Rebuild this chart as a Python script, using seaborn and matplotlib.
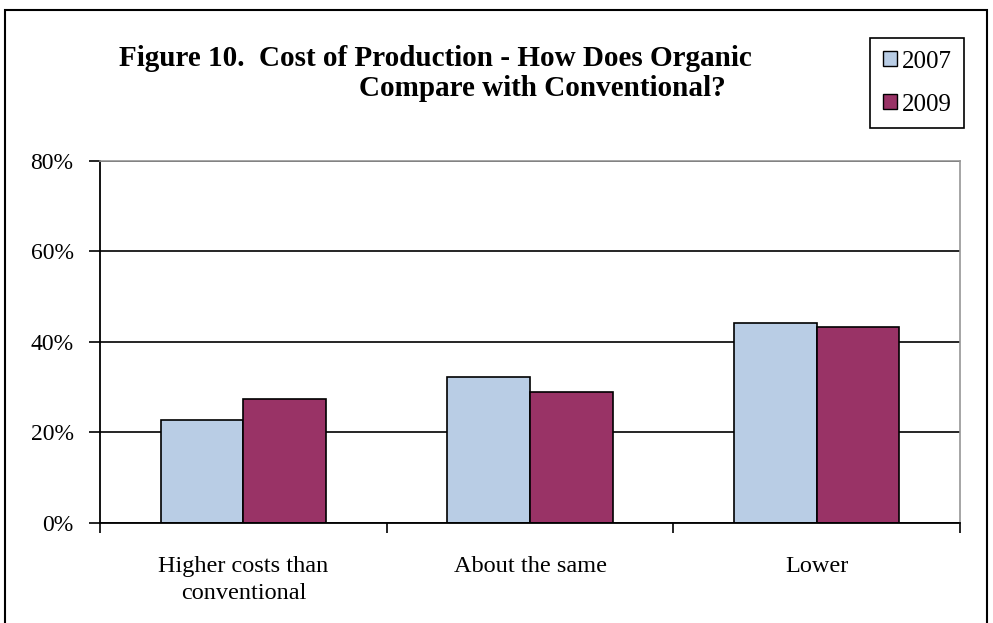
import matplotlib.pyplot as plt
import matplotlib.patches as mpatches
import pandas as pd
import seaborn as sns

categories = ["Higher costs than\nconventional", "About the same", "Lower"]
years = ["2007", "2009"]
values_2007 = [22.7, 32.3, 44.2]
values_2009 = [27.3, 28.9, 43.3]
y_ticks = [0, 20, 40, 60, 80]
colors = {"2007": "#B9CDE5", "2009": "#993366"}

df = pd.DataFrame({
    "category": categories * 2,
    "year": ["2007"] * 3 + ["2009"] * 3,
    "value": values_2007 + values_2009,
})

sns.set_style("white")
plt.rcParams["font.family"] = ["Liberation Serif", "DejaVu Serif"]
plt.rcParams["text.color"] = "black"
plt.rcParams["xtick.color"] = "black"
plt.rcParams["ytick.color"] = "black"

fig = plt.figure(figsize=(9.93, 6.23), dpi=100)
ax = fig.add_axes([100 / 993, 100.3 / 623, 860 / 993, 362 / 623])

sns.barplot(data=df, x="category", y="value", hue="year", palette=colors,
            width=0.576, edgecolor="black", linewidth=1.2, saturation=1,
            ax=ax, legend=False)

ax.set_ylim(0, 80)
ax.set_xlim(-0.5, 2.5)
ax.set_yticks(y_ticks)
ax.set_yticklabels([f"{t}%" for t in y_ticks], fontsize=17)
ax.yaxis.grid(True, color="black", linewidth=1.2)
ax.set_axisbelow(True)
ax.tick_params(axis="y", direction="out", length=8, width=1.2, pad=11, left=True)
ax.set_xticks(range(len(categories)))
ax.set_xticklabels(categories, fontsize=17.5, linespacing=1.4)
ax.set_xticks([-0.5, 0.5, 1.5, 2.5], minor=True)
ax.tick_params(axis="x", which="major", length=0, pad=24)
ax.tick_params(axis="x", which="minor", direction="out", length=7, width=1.2, bottom=True)
ax.set_xlabel("")
ax.set_ylabel("")

for side in ["left", "bottom"]:
    ax.spines[side].set_color("black")
    ax.spines[side].set_linewidth(1.3)
for side in ["top", "right"]:
    ax.spines[side].set_visible(True)
    ax.spines[side].set_color("#969696")
    ax.spines[side].set_linewidth(1.2)

fig.text(435.5 / 993, 1 - 59 / 623, "Figure 10.  Cost of Production - How Does Organic",
         ha="center", va="center", fontsize=21, fontweight="bold")
fig.text(542 / 993, 1 - 89 / 623, "Compare with Conventional?",
         ha="center", va="center", fontsize=21, fontweight="bold")

handles = [mpatches.Patch(facecolor=colors[y], edgecolor="black", linewidth=1) for y in years]
leg = fig.legend(handles, years, loc="upper right",
                 bbox_to_anchor=(964 / 993, 1 - 38 / 623), fontsize=18,
                 handlelength=0.55, handleheight=0.55, handletextpad=0.2,
                 labelspacing=0.85, borderpad=0.5, borderaxespad=0,
                 fancybox=False, framealpha=1, edgecolor="black")
leg.get_frame().set_linewidth(1.2)

fig.patches.append(mpatches.Rectangle((5 / 993, -0.2), 982 / 993, 1.2 - 10 / 623,
                                      transform=fig.transFigure, fill=False,
                                      edgecolor="black", linewidth=1.5))

fig.savefig("out.png", dpi=100)
